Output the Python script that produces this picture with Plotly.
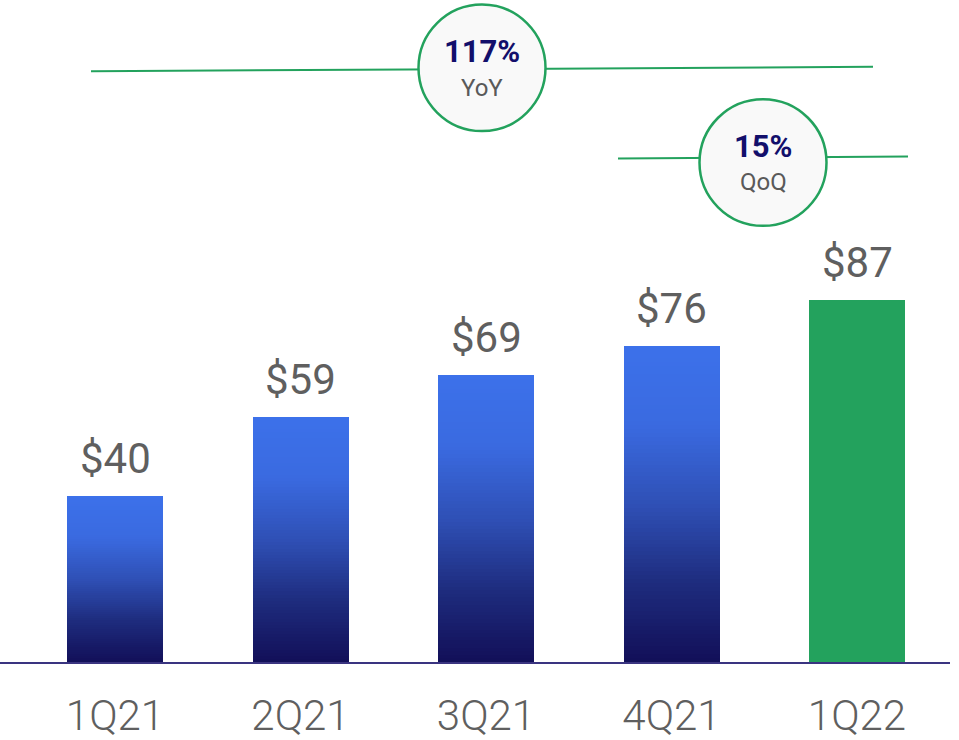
import plotly.graph_objects as go

# ---- data ----
quarters = ["1Q21", "2Q21", "3Q21", "4Q21", "1Q22"]
revenue = [40, 59, 69, 76, 87]
value_labels = ["$40", "$59", "$69", "$76", "$87"]
growth_values = ["117%", "15%"]
growth_kinds = ["YoY", "QoQ"]

# ---- style ----
W, H = 959, 740
BASE_PX = 664          # pixel y of the baseline
PX_PER_UNIT = 4.17
GREEN = "rgb(35,162,93)"
NAVY = "rgb(18,15,107)"
GREY = "rgb(90,90,90)"
FONT = "Roboto"

stops = [(0.0, (60, 113, 234)), (0.25, (58, 106, 224)), (0.5, (47, 80, 182)),
         (0.75, (30, 44, 126)), (1.0, (18, 15, 88))]


def grad(f):
    for (f0, c0), (f1, c1) in zip(stops[:-1], stops[1:]):
        if f0 <= f <= f1:
            t = (f - f0) / (f1 - f0)
            return "rgb(%d,%d,%d)" % tuple(round(a + (b - a) * t) for a, b in zip(c0, c1))
    return "rgb(%d,%d,%d)" % stops[-1][1]


N = 80
fig = go.Figure()
for k in range(N):
    frac_from_top = 1 - (k + 0.5) / N
    colors = [grad(frac_from_top)] * (len(quarters) - 1) + [GREEN]
    fig.add_trace(go.Bar(
        x=quarters, y=[v / N for v in revenue],
        marker=dict(color=colors, line=dict(width=0)),
        hoverinfo="skip", showlegend=False,
    ))

# value labels above bars
for q, v, lab in zip(quarters, revenue, value_labels):
    fig.add_annotation(x=q, y=v, text=lab, showarrow=False, yanchor="bottom",
                       yshift=11, font=dict(family=FONT, size=42, color="rgb(95,95,95)", weight=400))

px = lambda x: x / W
py = lambda y: (BASE_PX - y) / BASE_PX

shapes = []
# baseline
shapes.append(dict(type="line", xref="paper", yref="paper", x0=px(0), x1=px(950),
                   y0=py(665), y1=py(665), line=dict(color="rgb(58,52,128)", width=2)))
# growth lines
shapes.append(dict(type="line", xref="paper", yref="paper", x0=px(91), x1=px(873),
                   y0=py(71.5), y1=py(67), line=dict(color=GREEN, width=2)))
shapes.append(dict(type="line", xref="paper", yref="paper", x0=px(618), x1=px(908),
                   y0=py(159), y1=py(157), line=dict(color=GREEN, width=2)))
# circles
circles = [(482, 68), (763, 163)]
R = 63.5
for cx, cy in circles:
    shapes.append(dict(type="circle", xref="paper", yref="paper",
                       x0=px(cx - R), x1=px(cx + R), y0=py(cy + R), y1=py(cy - R),
                       fillcolor="rgb(249,249,249)", line=dict(color=GREEN, width=2.5)))
fig.update_layout(shapes=shapes)

for (cx, cy), gv, gk in zip(circles, growth_values, growth_kinds):
    fig.add_annotation(xref="paper", yref="paper", x=px(cx), y=py(cy - 16), text="<b>%s</b>" % gv,
                       showarrow=False, xanchor="center", yanchor="middle",
                       font=dict(family=FONT, size=31, color=NAVY))
    fig.add_annotation(xref="paper", yref="paper", x=px(cx), y=py(cy + 20), text=gk,
                       showarrow=False, xanchor="center", yanchor="middle",
                       font=dict(family=FONT, size=24, color=GREY, weight=400))

x_lo = -115 / 185.5
x_hi = (W - 115) / 185.5
fig.update_layout(
    width=W, height=H,
    margin=dict(l=0, r=0, t=0, b=H - BASE_PX),
    paper_bgcolor="white", plot_bgcolor="white",
    barmode="stack", bargap=1 - 96 / 185.5,
    xaxis=dict(range=[x_lo, x_hi], showgrid=False, zeroline=False, showline=False,
               ticks="outside", ticklen=17, tickcolor="rgba(0,0,0,0)",
               tickfont=dict(family=FONT, size=42, color="rgb(95,95,95)", weight=300)),
    yaxis=dict(range=[0, BASE_PX / PX_PER_UNIT], showgrid=False, zeroline=False,
               showticklabels=False, showline=False),
    showlegend=False,
)

fig.write_html("out.html")
